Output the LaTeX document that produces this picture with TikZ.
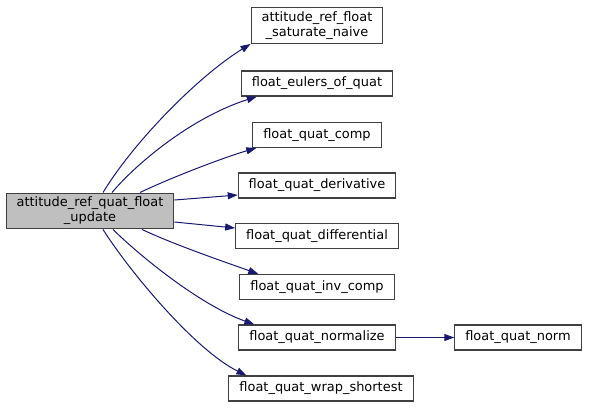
\documentclass[tikz,border=0pt]{standalone}
\usepackage{fontspec}
\setmainfont{DejaVu Sans}
\usetikzlibrary{arrows.meta, positioning}
\definecolor{midnight}{HTML}{191970}
\definecolor{boxline}{HTML}{404040}

\begin{document}
\begin{tikzpicture}[
    x=1bp, y=-1bp,
    fn/.style={rectangle, draw=boxline, line width=1.1bp, fill=white, inner xsep=10.5bp, inner ysep=4bp, minimum height=25bp, align=center, font=\fontsize{13}{15}\selectfont},
    root/.style={fn, fill=black!25},
    call/.style={-{Triangle[length=10bp, width=7bp]}, draw=midnight, line width=1bp}
]
\useasboundingbox (0,0) rectangle (592,407);

% Caller
\node[root] (main) at (90,211) {attitude\_ref\_quat\_float\\\_update};

% Callees
\node[fn] (naive) at (317,25.5) {attitude\_ref\_float\\\_saturate\_naive};
\node[fn] (eulers) at (317,83.5) {float\_eulers\_of\_quat};
\node[fn] (comp) at (317,135) {float\_quat\_comp};
\node[fn] (deriv) at (317,185.5) {float\_quat\_derivative};
\node[fn] (diff) at (317,236) {float\_quat\_differential};
\node[fn] (invcomp) at (317,287) {float\_quat\_inv\_comp};
\node[fn] (normalize) at (317,337.5) {float\_quat\_normalize};
\node[fn] (wrap) at (321,388.5) {float\_quat\_wrap\_shortest};
\node[fn] (norm) at (518,337.5) {float\_quat\_norm};

% Calls
\draw[call] ([xshift=13bp]main.north) .. controls (135,140) and (200,75) .. (naive.south west);
\draw[call] ([xshift=22bp]main.north) .. controls (135,165) and (190,118) .. ([xshift=16bp]eulers.south west);
\draw[call] ([xshift=50bp]main.north) .. controls (170,178) and (225,157) .. ([xshift=4bp]comp.south west);
\draw[call] ([yshift=11bp]main.east) -- ([yshift=-9.5bp]deriv.west);
\draw[call] ([yshift=-11bp]main.east) -- ([yshift=8bp]diff.west);
\draw[call] ([xshift=52bp]main.south) .. controls (175,245) and (225,262) .. ([xshift=19bp]invcomp.north west);
\draw[call] ([xshift=23bp]main.south) .. controls (140,256) and (200,305) .. ([xshift=16bp]normalize.north west);
\draw[call] ([xshift=13bp]main.south) .. controls (130,272) and (195,350) .. ([xshift=18bp]wrap.north west);
\draw[call] (normalize) -- (norm);

\end{tikzpicture}
\end{document}
